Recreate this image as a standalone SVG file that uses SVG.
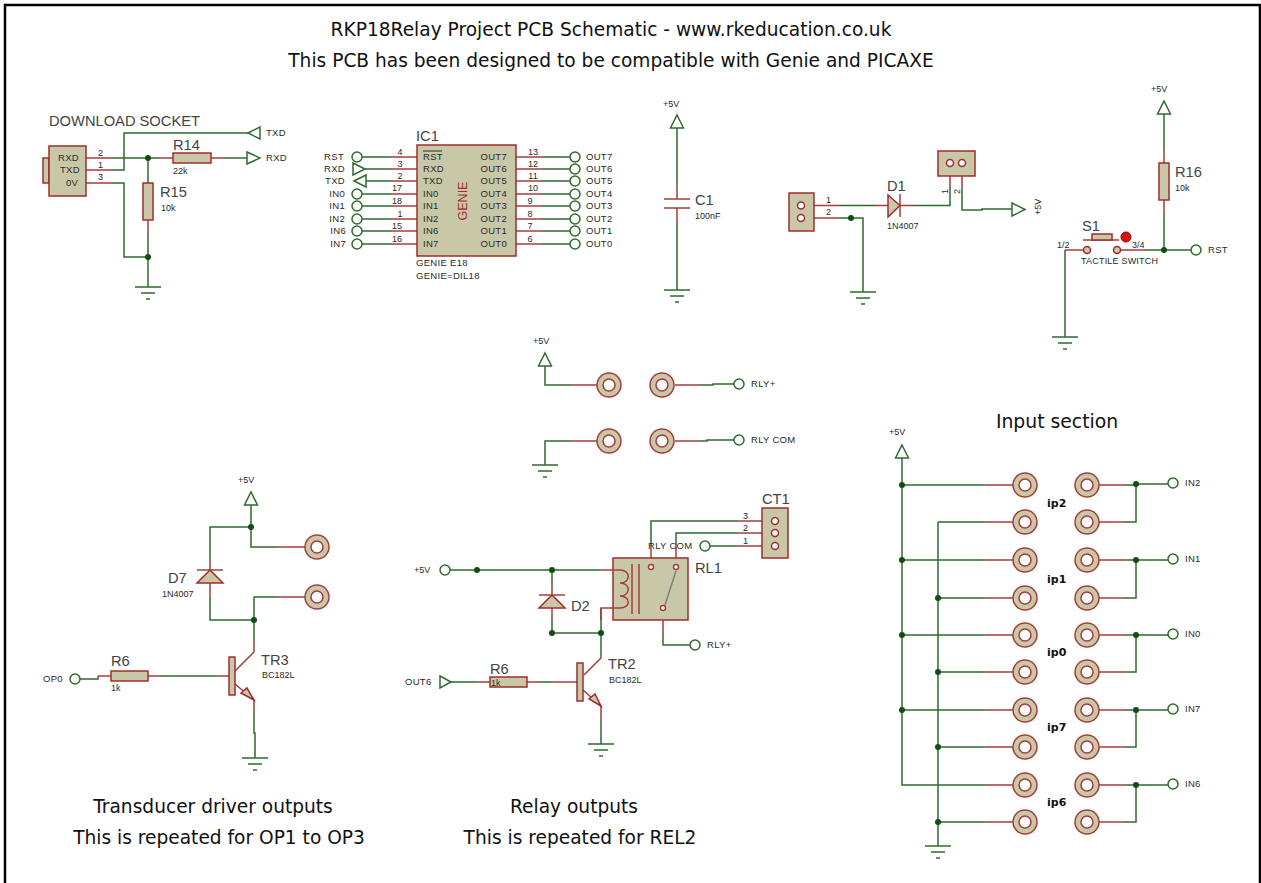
<svg xmlns="http://www.w3.org/2000/svg" width="1261" height="883" viewBox="0 0 1261 883">
<style>
.g{fill:none;stroke:#2f6b2f;stroke-width:1.5}
.r{fill:none;stroke:#a83c3c;stroke-width:1.5}
.b{fill:#c8c8a8;stroke:#a02c2c;stroke-width:1.5}
.o{fill:#fff;stroke:#2f6b2f;stroke-width:1.5}
.a{fill:#fff;stroke:#2f6b2f;stroke-width:1.5}
.j{fill:#0f4f0f}
text{font-family:"Liberation Sans",Arial,sans-serif;fill:#2a2a2a}
.s{font-size:9px}
.m{font-size:9.5px;letter-spacing:.3px}
.l{font-size:14.700px;fill:#444}
.h{font-family:"DejaVu Sans",Verdana,sans-serif;font-size:18.600px;fill:#111}
.bd{font-family:"DejaVu Sans",Verdana,sans-serif;font-size:11px;font-weight:bold;fill:#111}
</style>
<defs>
<g id="gnd"><path class="g" d="M-13 0H13M-7 6H7M-2 12H2"/></g>
<g id="pad"><circle r="12" fill="#c8c8a8" stroke="#a83c3c" stroke-width="1.500"/><circle r="6" fill="#fff" stroke="#a83c3c" stroke-width="1.500"/></g>
<circle id="term" r="5" class="o"/>
<circle id="dot" r="3" class="j"/>
<path id="up" class="a" d="M0 0L6.500 13H-6.500Z"/>
</defs>
<path id="frame" d="M5 883V5H1260V883" fill="none" stroke="#000" stroke-width="2.500"/>
<g id="title" text-anchor="middle">
<text class="h" x="611" y="36">RKP18Relay Project PCB Schematic - www.rkeducation.co.uk</text>
<text class="h" x="611" y="67">This PCB has been designed to be compatible with Genie and PICAXE</text>
</g>
<g id="connectors">
<path class="g" d="M111 158H160M223 158H247M148 158V183M148 233V287M111 170H124V133H248M111 183H124V257H148"/>
<path class="r" d="M86 158H111M86 170H111M86 183H111M160 158H173M211 158H223M148 220V233"/>
<path class="g" d="M362 157H391M365 169H391M366 181H391M362 194H391M362 206H391M362 219H391M362 231H391M362 244H391M541 157H570M541 169H570M541 181H570M541 194H570M541 206H570M541 219H570M541 231H570M541 244H570"/>
<path class="r" d="M391 157H417M391 169H417M391 181H417M391 194H417M391 206H417M391 219H417M391 231H417M391 244H417M516 157H541M516 169H541M516 181H541M516 194H541M516 206H541M516 219H541M516 231H541M516 244H541"/>
<path class="g" d="M677 128V185M677 222V290"/>
<path class="r" d="M677 185V199M677 208V222"/>
<path class="r" d="M804 205.500H839M804 218H839M876 205.500H888M900 205.500H913M950 163V185M962 163V190"/>
<path class="g" d="M839 205.500H876M913 205.500H950V185M839 218H863V292M962 190V210H982V209H1012"/>
<path class="r" d="M1065 250H1083M1121 250H1145M1164 150V163M1164 200V213"/>
<path class="g" d="M1065 250V337M1145 250H1191M1164 114V150M1164 213V250"/>
<path class="g" d="M545 366V385H572M700 385H713V384H734M545 465V441H572M700 441H707V440H734"/>
<path class="r" d="M572 385H598M675 385H700M572 441H598M675 441H700"/>
<path class="g" d="M251 505V547H278M251 527H210V558M210 596V620H254M278 597H254V640M80 679H98V676M161 676H216M254 713V733H255V758"/>
<path class="r" d="M278 547H306M278 597H306M210 558V570M210 583V596M254 640V652L235 671M98 676H111M148 676H161M216 676H229M235 684L254 700V713"/>
<path class="g" d="M450 570H600M552 570V583M552 621V633H601M601 608V655M451 682H477M540 682H552M601 720V744M663 633V645H690M651 545V521H738M676 545V533H738M710 546H738"/>
<path class="r" d="M600 570H613M552 583V595M552 608V621M613 608H601V620M601 655V658L584 675M477 682H490M527 682H540M552 682H577M583 690L601 706V720M663 611V633M651 564V545M676 564V545M738 521H772M738 533H772M738 546H772"/>
<path class="g" d="M902 458V785H985M902 485H985M902 560H985M902 635H985M902 710H985M938 522H985M938 522V846M938 598H985M938 672H985M938 747H985M938 822H985"/>
<path class="r" d="M985 485H1014M985 522H1014M985 560H1014M985 598H1014M985 635H1014M985 672H1014M985 710H1014M985 747H1014M985 785H1014M985 822H1014M1099 485H1125M1099 522H1125M1099 560H1125M1099 598H1125M1099 635H1125M1099 672H1125M1099 710H1125M1099 747H1125M1099 785H1125M1099 822H1125"/>
<path class="g" d="M1125 485H1136V484H1168M1125 522H1136V484M1125 560H1168M1125 598H1136V560M1125 635H1168M1125 672H1136V635M1125 710H1168M1125 747H1136V710M1125 785H1168M1125 822H1136V785"/>
<use href="#dot" x="148" y="158"/><use href="#dot" x="148" y="257"/><use href="#dot" x="851" y="218"/><use href="#dot" x="1164" y="250"/>
<use href="#dot" x="251" y="527"/><use href="#dot" x="254" y="620"/><use href="#dot" x="477" y="570"/><use href="#dot" x="552" y="570"/><use href="#dot" x="552" y="633"/><use href="#dot" x="601" y="633"/>
<use href="#dot" x="902" y="485"/><use href="#dot" x="902" y="560"/><use href="#dot" x="902" y="635"/><use href="#dot" x="902" y="710"/>
<use href="#dot" x="938" y="598"/><use href="#dot" x="938" y="672"/><use href="#dot" x="938" y="747"/><use href="#dot" x="938" y="822"/>
<use href="#dot" x="1136" y="484"/><use href="#dot" x="1136" y="560"/><use href="#dot" x="1136" y="635"/><use href="#dot" x="1136" y="710"/><use href="#dot" x="1136" y="785"/>
</g>
<g id="J-download">
<rect class="b" x="43" y="158" width="6" height="25"/><rect class="b" x="49" y="146" width="37" height="50"/>
<text class="l" x="49" y="126">DOWNLOAD SOCKET</text>
<text class="m" x="58" y="161">RXD</text><text class="m" x="60" y="173">TXD</text><text class="m" x="66" y="186">0V</text>
<text class="s" x="98" y="156">2</text><text class="s" x="98" y="168">1</text><text class="s" x="98" y="180">3</text>
</g>
<g id="R14"><rect class="b" x="173" y="153" width="38" height="10"/><text class="l" x="173" y="150">R14</text><text class="s" x="173" y="174">22k</text></g>
<g id="R15"><rect class="b" x="143" y="183" width="10" height="37"/><text class="l" x="160" y="197">R15</text><text class="s" x="161" y="211">10k</text></g>
<g id="TXD-port"><path class="a" d="M248 133L260 127V139Z"/><text class="m" x="266" y="136">TXD</text></g>
<g id="RXD-port"><path class="a" d="M247 152L260 158L247 164Z"/><text class="m" x="266" y="161">RXD</text></g>
<use href="#gnd" x="148" y="287"/>
<g id="IC1">
<rect class="b" x="417" y="145" width="99" height="111"/>
<text class="l" x="416" y="141">IC1</text>
<text class="m" x="423" y="160">RST</text><path d="M423 151H442" stroke="#2a2a2a"/>
<text class="m" x="423" y="172">RXD</text><text class="m" x="423" y="184">TXD</text><text class="m" x="423" y="197">IN0</text><text class="m" x="423" y="209">IN1</text><text class="m" x="423" y="222">IN2</text><text class="m" x="423" y="234">IN6</text><text class="m" x="423" y="247">IN7</text>
<g text-anchor="end"><text class="m" x="507" y="160">OUT7</text><text class="m" x="507" y="172">OUT6</text><text class="m" x="507" y="184">OUT5</text><text class="m" x="507" y="197">OUT4</text><text class="m" x="507" y="209">OUT3</text><text class="m" x="507" y="222">OUT2</text><text class="m" x="507" y="234">OUT1</text><text class="m" x="507" y="247">OUT0</text></g>
<text transform="translate(467 201) rotate(-90)" text-anchor="middle" font-size="12.500" style="fill:#a02c2c">GENIE</text>
<text class="m" x="416" y="266">GENIE E18</text><text class="m" x="416" y="279">GENIE=DIL18</text>
<g text-anchor="middle"><text class="s" x="400" y="155">4</text><text class="s" x="400" y="167">3</text><text class="s" x="400" y="179">2</text><text class="s" x="397" y="191">17</text><text class="s" x="397" y="204">18</text><text class="s" x="400" y="217">1</text><text class="s" x="397" y="229">15</text><text class="s" x="397" y="242">16</text>
<text class="s" x="533" y="155">13</text><text class="s" x="533" y="167">12</text><text class="s" x="533" y="179">11</text><text class="s" x="533" y="191">10</text><text class="s" x="530" y="204">9</text><text class="s" x="530" y="217">8</text><text class="s" x="530" y="229">7</text><text class="s" x="530" y="242">6</text></g>
</g>
<g id="IC1-left">
<use href="#term" x="357" y="157"/><use href="#term" x="357" y="194"/><use href="#term" x="357" y="206"/><use href="#term" x="357" y="219"/><use href="#term" x="357" y="231"/><use href="#term" x="357" y="244"/>
<path class="a" d="M353 163L365 169L353 175Z"/><path class="a" d="M354 181L366 175V187Z"/>
<g text-anchor="end"><text class="m" x="344" y="160">RST</text><text class="m" x="345" y="172">RXD</text><text class="m" x="345" y="184">TXD</text><text class="m" x="345" y="197">IN0</text><text class="m" x="345" y="209">IN1</text><text class="m" x="345" y="222">IN2</text><text class="m" x="346" y="234">IN6</text><text class="m" x="346" y="247">IN7</text></g>
</g>
<g id="IC1-right">
<use href="#term" x="575" y="157"/><use href="#term" x="575" y="169"/><use href="#term" x="575" y="181"/><use href="#term" x="575" y="194"/><use href="#term" x="575" y="206"/><use href="#term" x="575" y="219"/><use href="#term" x="575" y="231"/><use href="#term" x="575" y="244"/>
<text class="m" x="586" y="160">OUT7</text><text class="m" x="586" y="172">OUT6</text><text class="m" x="586" y="184">OUT5</text><text class="m" x="586" y="197">OUT4</text><text class="m" x="586" y="209">OUT3</text><text class="m" x="586" y="222">OUT2</text><text class="m" x="586" y="234">OUT1</text><text class="m" x="586" y="247">OUT0</text>
</g>
<g id="C1">
<text class="s" x="663" y="107">+5V</text><use href="#up" x="677" y="115"/>
<path d="M664 199H690M664 208H690" stroke="#a83c3c" stroke-width="1.500"/>
<text class="l" x="695" y="205">C1</text><text class="s" x="695" y="219">100nF</text>
<use href="#gnd" x="677" y="290"/>
</g>
<g id="J-power">
<rect class="b" x="789" y="193" width="25" height="38"/>
<circle class="b" cx="801" cy="205.500" r="3.500" style="fill:#fff"/><circle class="b" cx="801" cy="218" r="3.500" style="fill:#fff"/>
<text class="s" x="826" y="203">1</text><text class="s" x="826" y="215">2</text>
</g>
<g id="D1">
<path class="b" d="M888 195L900 205.500L888 217Z"/><path d="M900 194V217" stroke="#a83c3c" stroke-width="1.500"/>
<text class="l" x="887" y="191">D1</text><text class="s" x="887" y="229">1N4007</text>
</g>
<g id="J-switch">
<rect class="b" x="938" y="151" width="37" height="25"/>
<circle class="b" cx="950" cy="163" r="3.500" style="fill:#fff"/><circle class="b" cx="962" cy="163" r="3.500" style="fill:#fff"/>
<text class="s" transform="translate(948 194) rotate(-90)">1</text><text class="s" transform="translate(960 194) rotate(-90)">2</text>
</g>
<g id="V5-D1"><path class="a" d="M1025 209.500L1012 203V216Z"/><text class="s" transform="translate(1041 215) rotate(-90)">+5V</text></g>
<use href="#gnd" x="863" y="292"/>
<g id="S1">
<path d="M1083 240H1119" stroke="#a83c3c" stroke-width="1.500"/><rect class="b" x="1092" y="234" width="20" height="6"/>
<circle cx="1126" cy="237" r="5" fill="#e01010" stroke="#801010"/>
<circle class="b" cx="1087" cy="250" r="3.500"/><circle class="b" cx="1117" cy="250" r="3.500"/>
<text class="l" x="1082" y="231">S1</text><text class="s" x="1057" y="248">1/2</text><text class="s" x="1132" y="248">3/4</text><text class="s" x="1081" y="264" letter-spacing=".2">TACTILE SWITCH</text>
<use href="#gnd" x="1065" y="337"/>
</g>
<g id="R16">
<text class="s" x="1151" y="92">+5V</text><use href="#up" x="1164" y="101"/>
<rect class="b" x="1159" y="163" width="10" height="37"/>
<text class="l" x="1175" y="177">R16</text><text class="s" x="1175" y="191">10k</text>
<use href="#term" x="1196" y="250"/><text class="m" x="1208" y="253">RST</text>
</g>
<g id="relay-pads">
<text class="s" x="533" y="344">+5V</text><use href="#up" x="545" y="353"/>
<use href="#pad" x="609" y="385"/><use href="#pad" x="662" y="385"/><use href="#pad" x="609" y="441"/><use href="#pad" x="662" y="441"/>
<use href="#term" x="739" y="384"/><use href="#term" x="739" y="440"/>
<text class="m" x="751" y="387">RLY+</text><text class="m" x="751" y="443">RLY COM</text>
<use href="#gnd" x="545" y="465"/>
</g>
<g id="TR3-driver">
<text class="s" x="238" y="483">+5V</text><use href="#up" x="251" y="492"/>
<use href="#pad" x="317" y="547"/><use href="#pad" x="317" y="597"/>
<path d="M197 570H223" stroke="#a83c3c" stroke-width="1.500"/><path class="b" d="M210 570L223 583H197Z"/>
<text class="l" x="168" y="583">D7</text><text class="s" x="162" y="597">1N4007</text>
<use href="#term" x="75" y="679"/><text class="m" x="43" y="682">OP0</text>
<rect class="b" x="111" y="671" width="37" height="10"/><text class="l" x="111" y="666">R6</text><text class="s" x="111" y="691">1k</text>
<rect class="b" x="229" y="657" width="6" height="38"/>
<path class="b" d="M254 700L241 693L247 688Z"/>
<text class="l" x="261" y="665">TR3</text><text class="s" x="262" y="678">BC182L</text>
<use href="#gnd" x="255" y="758"/>
</g>
<g id="RL1">
<rect class="b" x="613" y="558" width="75" height="62"/>
<path class="r" d="M613 570H620C631 570 631 583 620 583C631 583 631 596 620 596C631 596 631 608 620 608H613"/>
<path class="r" d="M632 564V614M639 564V614"/>
<circle cx="651" cy="567" r="2.500" fill="#fff" stroke="#a83c3c" stroke-width="1.500"/><circle cx="676" cy="567" r="2.500" fill="#fff" stroke="#a83c3c" stroke-width="1.500"/><circle cx="663" cy="608" r="2.500" fill="#fff" stroke="#a83c3c" stroke-width="1.500"/>
<path d="M676 571L665 605" stroke="#808080" stroke-width="1.500"/>
<text class="l" x="695" y="573">RL1</text>
</g>
<g id="CT1">
<rect class="b" x="762" y="508" width="26" height="50"/>
<circle class="b" cx="775" cy="521" r="3.500" style="fill:#fff"/><circle class="b" cx="775" cy="533" r="3.500" style="fill:#fff"/><circle class="b" cx="775" cy="546" r="3.500" style="fill:#fff"/>
<text class="l" x="762" y="504">CT1</text>
<text class="s" x="743" y="519">3</text><text class="s" x="743" y="531">2</text><text class="s" x="743" y="544">1</text>
<use href="#term" x="705" y="546"/><text class="m" x="648" y="549">RLY COM</text>
</g>
<g id="TR2-driver">
<use href="#term" x="445" y="570"/><text class="s" x="414" y="573">+5V</text>
<path d="M539 595H565" stroke="#a83c3c" stroke-width="1.500"/><path class="b" d="M552 595L565 608H539Z"/>
<text class="l" x="571" y="611">D2</text>
<use href="#term" x="695" y="645"/><text class="m" x="707" y="648">RLY+</text>
<path class="a" d="M440 676L451 682L440 688Z"/><text class="m" x="405" y="685">OUT6</text>
<rect class="b" x="490" y="677" width="37" height="10"/><text class="l" x="490" y="674">R6</text><text class="s" x="491" y="686">1k</text>
<rect class="b" x="577" y="663" width="6" height="38"/>
<path class="b" d="M601 706L589 699L595 694Z"/>
<text class="l" x="608" y="669">TR2</text><text class="s" x="609" y="683">BC182L</text>
<use href="#gnd" x="601" y="744"/>
</g>
<g id="input-section">
<text x="1057" y="428" text-anchor="middle" class="h" style="font-size:18.800px">Input section</text>
<text class="s" x="889" y="435">+5V</text><use href="#up" x="902" y="445"/>
<use href="#pad" x="1025" y="485"/><use href="#pad" x="1025" y="522"/><use href="#pad" x="1025" y="560"/><use href="#pad" x="1025" y="598"/><use href="#pad" x="1025" y="635"/><use href="#pad" x="1025" y="672"/><use href="#pad" x="1025" y="710"/><use href="#pad" x="1025" y="747"/><use href="#pad" x="1025" y="785"/><use href="#pad" x="1025" y="822"/>
<use href="#pad" x="1087" y="485"/><use href="#pad" x="1087" y="522"/><use href="#pad" x="1087" y="560"/><use href="#pad" x="1087" y="598"/><use href="#pad" x="1087" y="635"/><use href="#pad" x="1087" y="672"/><use href="#pad" x="1087" y="710"/><use href="#pad" x="1087" y="747"/><use href="#pad" x="1087" y="785"/><use href="#pad" x="1087" y="822"/>
<text class="bd" x="1047" y="507">ip2</text><text class="bd" x="1047" y="583">ip1</text><text class="bd" x="1047" y="656">ip0</text><text class="bd" x="1047" y="731">ip7</text><text class="bd" x="1047" y="806">ip6</text>
<use href="#term" x="1173" y="483"/><use href="#term" x="1173" y="559"/><use href="#term" x="1173" y="634"/><use href="#term" x="1173" y="709"/><use href="#term" x="1173" y="784"/>
<text class="m" x="1185" y="486">IN2</text><text class="m" x="1185" y="562">IN1</text><text class="m" x="1185" y="637">IN0</text><text class="m" x="1185" y="712">IN7</text><text class="m" x="1185" y="787">IN6</text>
<use href="#gnd" x="938" y="846"/>
</g>
<g id="captions" text-anchor="middle">
<text class="h" x="213" y="813">Transducer driver outputs</text>
<text class="h" x="219" y="844">This is repeated for OP1 to OP3</text>
<text class="h" x="574" y="813">Relay outputs</text>
<text class="h" x="580" y="844">This is repeated for REL2</text>
</g>
</svg>
